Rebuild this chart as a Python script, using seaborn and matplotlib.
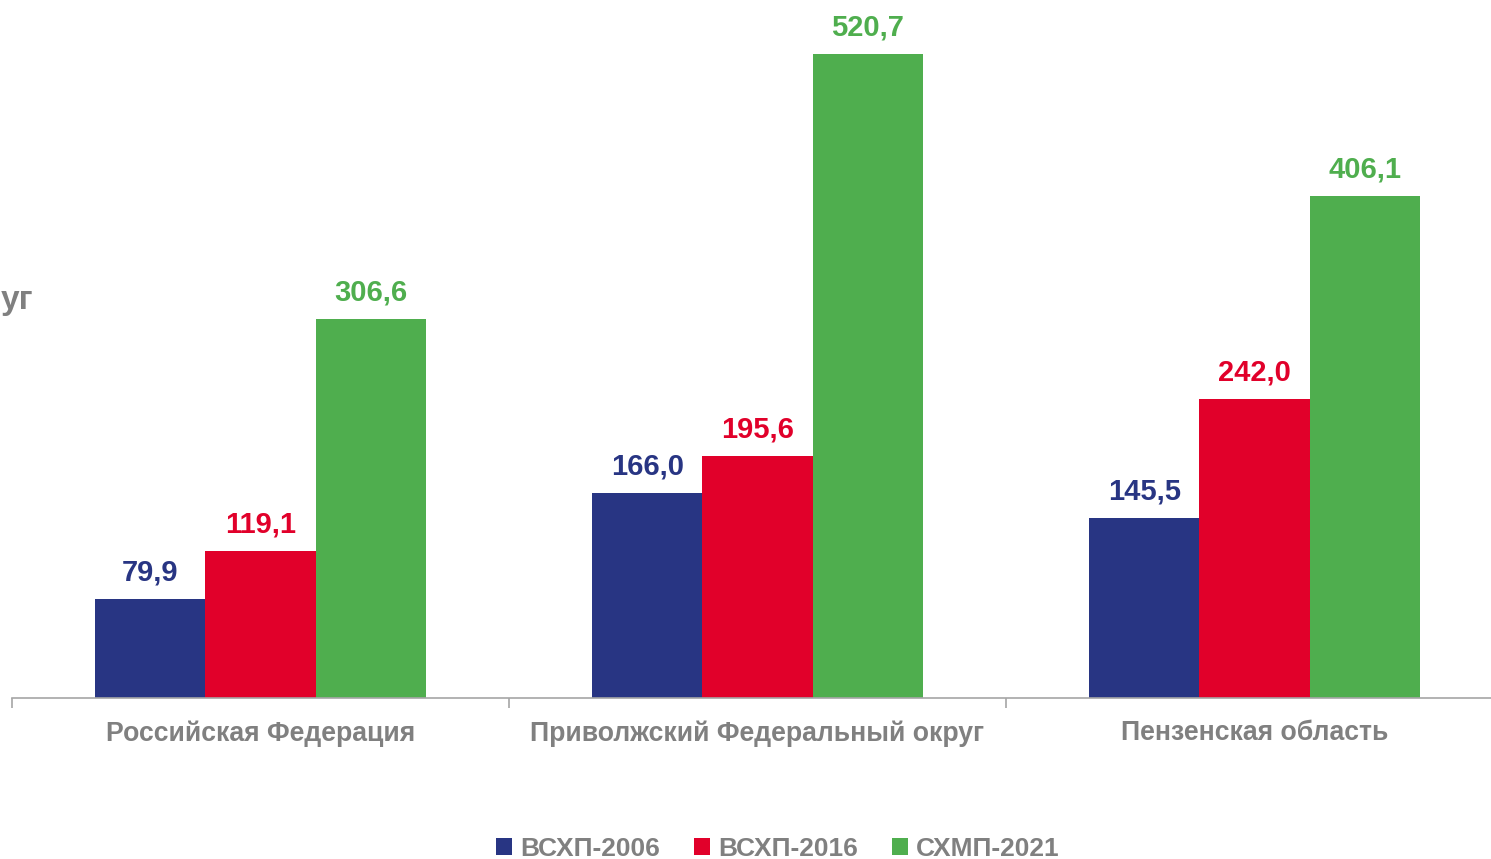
import matplotlib
matplotlib.use("Agg")
import matplotlib.pyplot as plt
import seaborn as sns
import pandas as pd
from matplotlib.patches import Patch

categories = ["Российская Федерация", "Приволжский Федеральный округ", "Пензенская область"]
series = ["ВСХП-2006", "ВСХП-2016", "СХМП-2021"]
values_2006 = [79.9, 166.0, 145.5]
values_2016 = [119.1, 195.6, 242.0]
values_2021 = [306.6, 520.7, 406.1]
colors = ["#283583", "#E1002A", "#4FAE4E"]

rows = []
for s, vals in zip(series, [values_2006, values_2016, values_2021]):
    for c, v in zip(categories, vals):
        rows.append({"cat": c, "series": s, "val": v})
df = pd.DataFrame(rows)

sns.set_theme(style="white")
plt.rcParams["font.family"] = ["Liberation Sans", "DejaVu Sans"]

fig = plt.figure(figsize=(14.91, 8.59), dpi=100)
ax = fig.add_axes([12 / 1491, (859 - 698) / 859, 1491 / 1491, 698 / 859])

sns.barplot(data=df, x="cat", y="val", hue="series", palette=colors,
            width=0.666, gap=0, ax=ax, legend=False, saturation=1,
            edgecolor="none", errorbar=None)

ax.set_xlim(-0.5, 2.5)
ax.set_ylim(0, 564.5)

for cont, col in zip(ax.containers, colors):
    labels = [f"{v:.1f}".replace(".", ",") for v in cont.datavalues]
    ax.bar_label(cont, labels=labels, padding=9, color=col,
                 fontsize=21, fontweight="bold")

for sp in ["top", "right", "left"]:
    ax.spines[sp].set_visible(False)
ax.spines["bottom"].set_color("#A6A6A6")
ax.spines["bottom"].set_linewidth(1.2)
ax.set_yticks([])
ax.set_xlabel("")
ax.set_ylabel("")
ax.set_xticks(range(len(categories)))
ax.set_xticklabels(categories, fontsize=19.2, fontweight="bold", color="#808080")
ax.tick_params(axis="x", which="major", length=0, pad=16, bottom=True)
ax.set_xticks([-0.5, 0.5, 1.5, 2.5], minor=True)
ax.tick_params(axis="x", which="minor", length=7, width=1.2, color="#A6A6A6",
               direction="out", bottom=True)

fig.text(1 / 1491, 1 - 300 / 859, "уг", ha="left", va="center",
         fontsize=24, fontweight="bold", color="#808080")

handles = [Patch(facecolor=c, edgecolor="none") for c in colors]
fig.legend(handles, series, loc="center", bbox_to_anchor=(778 / 1491, 1 - 849 / 859),
           ncol=3, frameon=False, handlelength=0.6, handleheight=0.6,
           handletextpad=0.3, columnspacing=1.3,
           prop={"size": 19, "weight": "bold"}, labelcolor="#808080")

fig.savefig("out.png", dpi=100)
